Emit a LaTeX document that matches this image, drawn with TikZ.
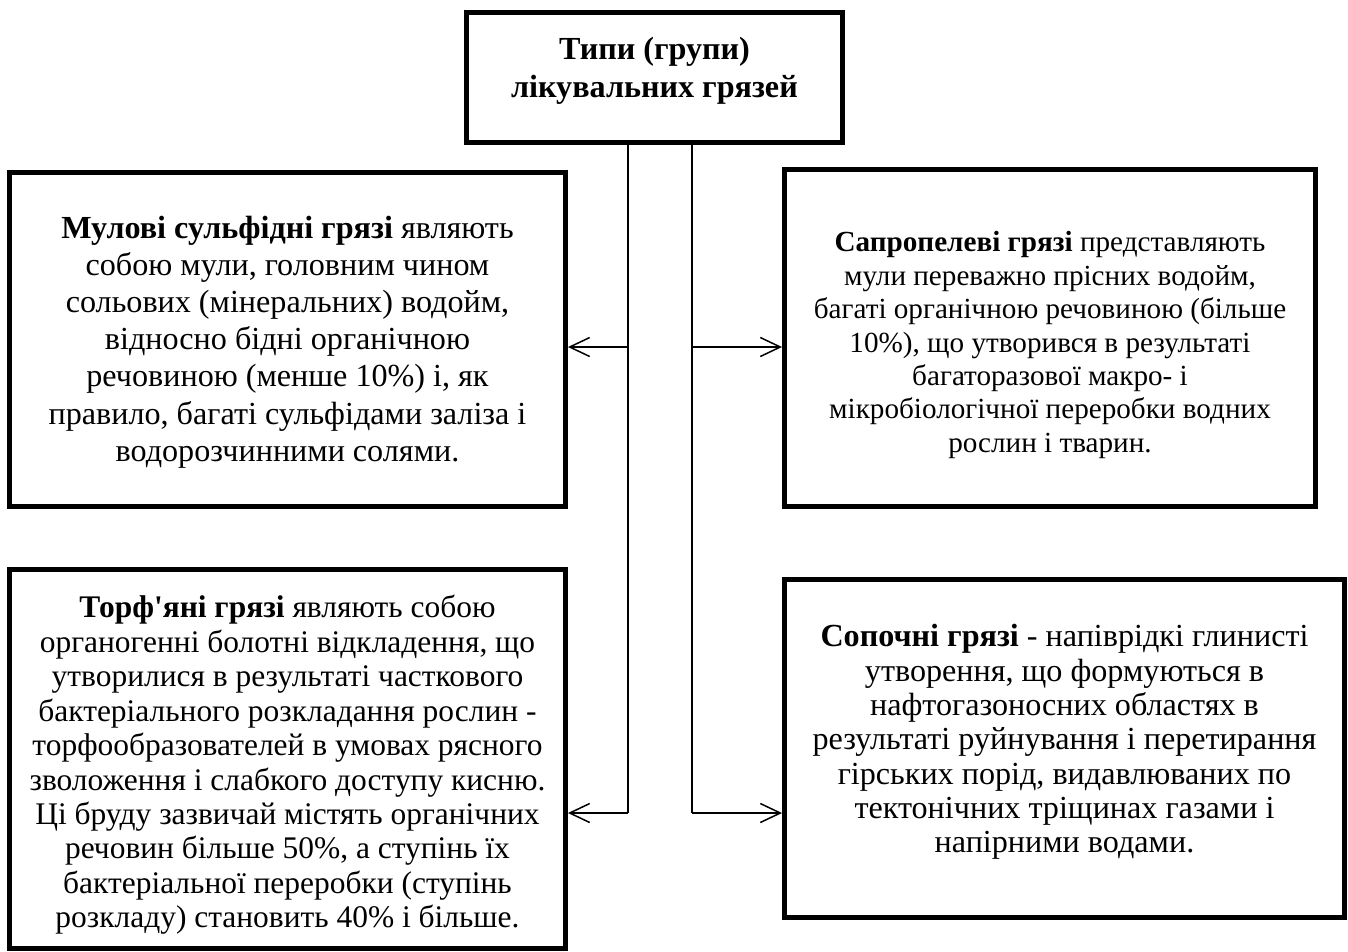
\documentclass[tikz,border=0pt]{standalone}
\usepackage{fontspec}
\setmainfont{Liberation Serif}
\usetikzlibrary{arrows.meta}
\tikzset{
  box/.style={draw,line width=2.8pt,inner sep=0pt},
  txt/.style={align=center,inner sep=0pt},
  trunk/.style={line width=0.85pt},
  arrow/.style={line width=0.85pt,-{Straight Barb[length=4mm,width=3.8mm]}}
}
\newcommand{\fs}[2]{\fontsize{#1}{#2}\selectfont}

\begin{document}
\begin{tikzpicture}[x=0.02cm,y=-0.02cm]
    \useasboundingbox[fill=white] (0,0) rectangle (1348,951);

    % the five boxes
    \node[box,minimum width=376*0.02cm,minimum height=130*0.02cm] (top) at (654.5,77.5) {};
    \node[box,minimum width=556*0.02cm,minimum height=334*0.02cm] (mul) at (287.5,339.5) {};
    \node[box,minimum width=531*0.02cm,minimum height=337*0.02cm] (sapr) at (1050,338) {};
    \node[box,minimum width=556*0.02cm,minimum height=379*0.02cm] (torf) at (287.5,759) {};
    \node[box,minimum width=560*0.02cm,minimum height=338*0.02cm] (sop) at (1064.5,748.5) {};

    % their texts
    \node[txt,font=\fs{18.3}{21.6}\bfseries] (top-t) at (654.5,71)
      {Типи (групи)\\лікувальних грязей};

    \node[txt,font=\fs{18.3}{21.2}] (mul-t) at (287.5,342)
      {\textbf{Мулові сульфідні грязі} являють\\
       собою мули, головним чином\\
       сольових (мінеральних) водойм,\\
       відносно бідні органічною\\
       речовиною (менше 10\%) і, як\\
       правило, багаті сульфідами заліза і\\
       водорозчинними солями.};

    \node[txt,font=\fs{16.6}{19}] (sapr-t) at (1050,345)
      {\textbf{Сапропелеві грязі} представляють\\
       мули переважно прісних водойм,\\
       багаті органічною речовиною (більше\\
       10\%), що утворився в результаті\\
       багаторазової макро- і\\
       мікробіологічної переробки водних\\
       рослин і тварин.};

    \node[txt,font=\fs{17.9}{19.6}] (torf-t) at (287.5,765)
      {\textbf{Торф\textquotesingle яні грязі} являють собою\\
       органогенні болотні відкладення, що\\
       утворилися в результаті часткового\\
       бактеріального розкладання рослин -\\
       торфообразователей в умовах рясного\\
       зволоження і слабкого доступу кисню.\\
       Ці бруду зазвичай містять органічних\\
       речовин більше 50\%, а ступінь їх\\
       бактеріальної переробки (ступінь\\
       розкладу) становить 40\% і більше.};

    \node[txt,font=\fs{18.3}{19.5}] (sop-t) at (1064.5,742)
      {\textbf{Сопочні грязі} - напіврідкі глинисті\\
       утворення, що формуються в\\
       нафтогазоносних областях в\\
       результаті руйнування і перетирання\\
       гірських порід, видавлюваних по\\
       тектонічних тріщинах газами і\\
       напірними водами.};

    % branch points on the two trunks
    \coordinate (l1) at (628,347);
    \coordinate (l2) at (628,813);
    \coordinate (r1) at (692,347);
    \coordinate (r2) at (692,813);

    \draw[trunk] (top.south -| l1) -- (l2);
    \draw[trunk] (top.south -| r1) -- (r2);
    \draw[arrow] (l1) -- (mul.east |- l1);
    \draw[arrow] (l2) -- (torf.east |- l2);
    \draw[arrow] (r1) -- (sapr.west |- r1);
    \draw[arrow] (r2) -- (sop.west |- r2);
\end{tikzpicture}
\end{document}
